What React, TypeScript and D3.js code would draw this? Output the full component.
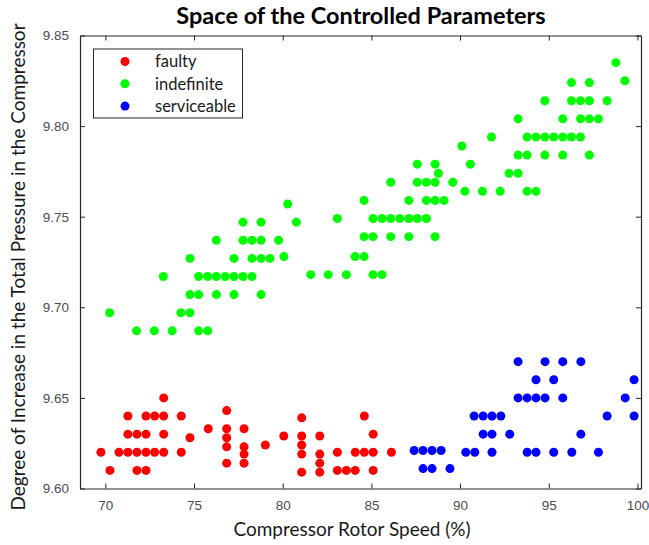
import React, { useEffect, useRef } from "react";
import * as d3 from "d3";

// compressor rotor speed (%) / pressure increase
const faultySpeed = [69.75, 70.26, 70.77, 71.27, 71.27, 71.27, 71.78, 71.78, 71.78, 72.29, 72.29, 72.29, 72.29, 72.78, 72.78,
  73.29, 73.29, 73.29, 73.29, 74.28, 74.28, 74.77, 75.8, 76.84, 76.84, 76.84, 76.84, 76.84,
  77.82, 77.82, 77.82, 77.82, 79.02, 80.06, 81.07, 81.07, 81.07, 81.07, 81.07, 82.09, 82.09, 82.09, 82.09,
  83.08, 83.08, 83.59, 84.09, 84.09, 84.6, 84.6, 85.1, 85.1, 85.1, 86.13];
const faultyPressure = [9.62, 9.61, 9.62, 9.64, 9.63, 9.62, 9.63, 9.62, 9.61, 9.64, 9.63, 9.62, 9.61, 9.64, 9.62,
  9.65, 9.64, 9.63, 9.62, 9.64, 9.62, 9.628, 9.633, 9.643, 9.633, 9.628, 9.623, 9.614,
  9.633, 9.623, 9.619, 9.614, 9.624, 9.629, 9.639, 9.629, 9.624, 9.619, 9.609, 9.629, 9.619, 9.614, 9.609,
  9.62, 9.61, 9.61, 9.62, 9.61, 9.64, 9.62, 9.63, 9.62, 9.61, 9.62];

const indefSpeed = [70.24, 71.76, 72.76, 73.27, 73.77, 74.26, 74.77, 74.77, 74.77, 75.26, 75.26, 75.26, 75.77, 75.77,
  76.26, 76.26, 76.26, 76.76, 77.25, 77.25, 77.25, 77.76, 77.76, 77.76, 78.27, 78.27, 78.27,
  78.78, 78.78, 78.78, 78.78, 79.28, 79.77, 80.07, 80.28, 80.77, 81.58, 82.57, 83.08, 83.59,
  84.08, 84.59, 84.59, 84.59, 85.09, 85.6, 85.09, 85.09, 85.6, 86.09, 86.09, 86.09, 86.6,
  87.11, 87.11, 87.11, 87.59, 87.59, 87.59, 88.1, 88.1, 88.1, 88.59, 88.78, 88.59, 88.59, 88.59,
  89.1, 89.59, 90.1, 90.58, 90.27, 91.26, 91.77, 92.26, 92.76, 93.27, 93.27, 93.27,
  93.78, 93.78, 93.78, 94.28, 94.28, 94.78, 94.78, 94.78, 95.28, 95.79, 95.79, 95.79,
  96.28, 96.28, 96.28, 96.79, 96.79, 96.79, 97.29, 97.29, 97.29, 97.29, 97.8, 98.29, 98.78, 99.29];
const indefPressure = [9.697, 9.687, 9.687, 9.717, 9.687, 9.697, 9.697, 9.707, 9.727, 9.707, 9.717, 9.687, 9.687, 9.717,
  9.737, 9.717, 9.707, 9.717, 9.727, 9.717, 9.707, 9.747, 9.737, 9.717, 9.737, 9.727, 9.717,
  9.747, 9.737, 9.727, 9.707, 9.727, 9.737, 9.728, 9.757, 9.747, 9.718, 9.718, 9.749, 9.718,
  9.728, 9.728, 9.739, 9.759, 9.718, 9.718, 9.739, 9.749, 9.749, 9.769, 9.749, 9.739, 9.749,
  9.759, 9.749, 9.739, 9.779, 9.769, 9.749, 9.769, 9.759, 9.749, 9.779, 9.774, 9.769, 9.759, 9.739,
  9.759, 9.769, 9.789, 9.779, 9.764, 9.764, 9.794, 9.764, 9.774, 9.774, 9.784, 9.804,
  9.794, 9.784, 9.764, 9.794, 9.764, 9.814, 9.794, 9.784, 9.794, 9.804, 9.794, 9.784,
  9.824, 9.814, 9.794, 9.814, 9.804, 9.794, 9.824, 9.814, 9.804, 9.784, 9.804, 9.814, 9.835, 9.825];

const servSpeed = [93.27, 94.79, 95.79, 96.81, 94.28, 95.28, 99.81, 93.27, 93.78, 94.28, 94.79, 95.79, 99.31,
  90.79, 91.3, 91.8, 92.3, 98.29, 99.81, 91.3, 91.8, 92.8, 96.81, 87.41, 87.91, 88.42, 88.93,
  90.32, 90.83, 91.8, 93.78, 94.28, 95.28, 96.3, 97.8, 87.91, 88.42, 89.43];
const servPressure = [9.67, 9.67, 9.67, 9.67, 9.66, 9.66, 9.66, 9.65, 9.65, 9.65, 9.65, 9.65, 9.65,
  9.64, 9.64, 9.64, 9.64, 9.64, 9.64, 9.63, 9.63, 9.63, 9.63, 9.621, 9.621, 9.621, 9.621,
  9.62, 9.62, 9.62, 9.62, 9.62, 9.62, 9.62, 9.62, 9.611, 9.611, 9.611];

const groups = [
  { name: "faulty", color: "#ff0000", xs: faultySpeed, ys: faultyPressure },
  { name: "indefinite", color: "#00ff00", xs: indefSpeed, ys: indefPressure },
  { name: "serviceable", color: "#0000ff", xs: servSpeed, ys: servPressure },
];

const xTicks = [70, 75, 80, 85, 90, 95, 100];
const yTicks = [9.6, 9.65, 9.7, 9.75, 9.8, 9.85];

export default function App() {
  const ref = useRef<SVGGElement>(null);
  const width = 649;
  const height = 545;
  const left = 80, right = 641, top = 35.5, bottom = 488.5;

  useEffect(() => {
    const g = d3.select(ref.current);
    g.selectAll("*").remove();

    const x = d3.scaleLinear().domain([68.57, 100.2]).range([left, right]);
    const y = d3.scaleLinear().domain([9.6, 9.85]).range([bottom, top]);
    const axisColor = "#262626";
    const tickColor = "#4d4d4d";

    // dots
    groups.forEach(grp => {
      g.append("g").selectAll("circle")
        .data(grp.xs.map((v, i) => [v, grp.ys[i]]))
        .enter().append("circle")
        .attr("cx", d => x(d[0]))
        .attr("cy", d => y(d[1]))
        .attr("r", 4.5)
        .attr("fill", grp.color);
    });

    // box with inward ticks
    const bottomAxis = g.append("g").attr("transform", `translate(0,${bottom})`)
      .call(d3.axisBottom(x).tickValues(xTicks).tickSizeInner(-5).tickSizeOuter(0).tickPadding(12).tickFormat(d3.format("d")));
    const topAxis = g.append("g").attr("transform", `translate(0,${top})`)
      .call(d3.axisTop(x).tickValues(xTicks).tickSizeInner(-5).tickSizeOuter(0).tickFormat(() => ""));
    const leftAxis = g.append("g").attr("transform", `translate(${left},0)`)
      .call(d3.axisLeft(y).tickValues(yTicks).tickSizeInner(-5).tickSizeOuter(0).tickPadding(11).tickFormat(d3.format(".2f")));
    const rightAxis = g.append("g").attr("transform", `translate(${right},0)`)
      .call(d3.axisRight(y).tickValues(yTicks).tickSizeInner(-5).tickSizeOuter(0).tickFormat(() => ""));
    [bottomAxis, topAxis, leftAxis, rightAxis].forEach(a => {
      a.select(".domain").attr("stroke", axisColor).attr("stroke-width", 1.2);
      a.selectAll(".tick line").attr("stroke", axisColor);
      a.selectAll("text").attr("fill", tickColor).attr("font-family", "Liberation Sans, Arial").attr("font-size", 13.5);
    });

    // legend
    const lg = g.append("g");
    lg.append("rect").attr("x", 93.5).attr("y", 49).attr("width", 149).attr("height", 69)
      .attr("fill", "white").attr("stroke", axisColor).attr("stroke-width", 1);
    groups.forEach((grp, i) => {
      const cy = 61.5 + i * 22.3;
      lg.append("circle").attr("cx", 125).attr("cy", cy).attr("r", 4.5).attr("fill", grp.color);
      lg.append("text").attr("x", 155).attr("y", cy).attr("dy", "0.35em")
        .attr("font-family", "Lato").attr("font-size", 16.5).attr("fill", "#1a1a1a").text(grp.name);
    });

    // labels
    g.append("text").attr("x", 361).attr("y", 24).attr("text-anchor", "middle")
      .attr("font-family", "Lato").attr("font-weight", "bold").attr("font-size", 23.5).attr("fill", "#000")
      .text("Space of the Controlled Parameters");
    g.append("text").attr("x", 352).attr("y", 536).attr("text-anchor", "middle")
      .attr("font-family", "Lato").attr("font-size", 19).attr("fill", "#1a1a1a")
      .text("Compressor Rotor Speed (%)");
    g.append("text").attr("transform", `translate(25,267) rotate(-90)`).attr("text-anchor", "middle")
      .attr("font-family", "Lato").attr("font-size", 19).attr("fill", "#1a1a1a")
      .text("Degree of Increase in the Total Pressure in the Compressor");
  }, []);

  return (
    <svg width={width} height={height} style={{ position: "absolute", left: 0, top: 0, background: "white" }}>
      <g ref={ref}></g>
    </svg>
  );
}
